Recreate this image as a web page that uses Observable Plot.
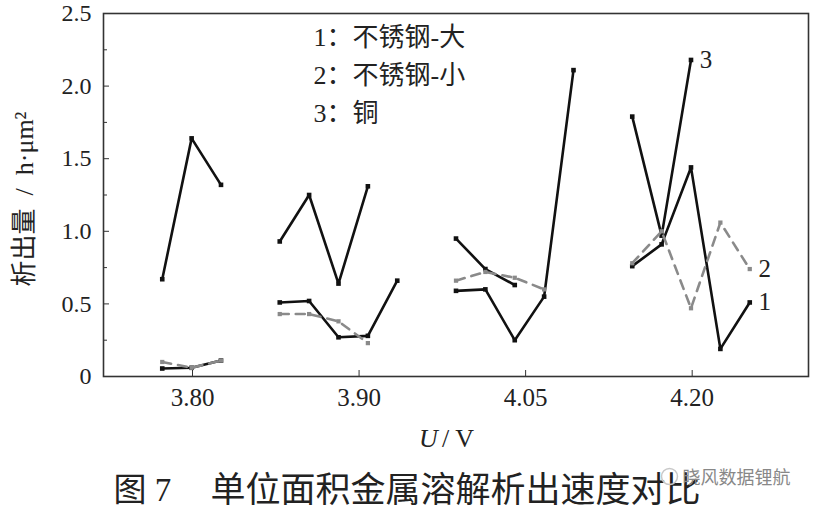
<!DOCTYPE html>
<html><head><meta charset="utf-8">
<script src="https://cdn.jsdelivr.net/npm/d3@7"></script>
<script src="https://cdn.jsdelivr.net/npm/@observablehq/plot@0.6"></script>
<style>
body{margin:0;background:#fff;}
#chart{width:817px;height:515px;}
</style>
</head><body><div id="chart"></div>
<script>
// ---- data ----
const groups = ["3.80", "3.90", "4.05", "4.20"];         // voltage groups (tick labels)
const groupStart = [2, 6, 12, 18];                        // index of first sample of each group
const tickPos = [3.03, 8.7, 14.37, 20.04];                // tick positions on the index axis
const yTicks = [0, 0.5, 1, 1.5, 2, 2.5];
const yMinor = [0.25, 0.75, 1.25, 1.75, 2.25];
const seriesNames = ["1：不锈钢-大", "2：不锈钢-小", "3：铜"];
const endLabels = ["1", "2", "3"];
const s1 = [[0.055, 0.06, 0.11], [0.51, 0.52, 0.27, 0.28, 0.66], [0.59, 0.60, 0.25, 0.55, 2.11], [0.76, 0.91, 1.44, 0.19, 0.51]];
const s2 = [[0.10, 0.06, 0.11], [0.43, 0.43, 0.38, 0.23], [0.66, 0.72, 0.68, 0.60], [0.78, 1.00, 0.47, 1.06, 0.74]];
const s3 = [[0.67, 1.64, 1.32], [0.93, 1.25, 0.64, 1.31], [0.95, 0.74, 0.63], [1.79, 0.97, 2.18]];
const yTitle = "析出量\u2002/\u2002h·μm²";
const caption1 = "图 7";
const caption2 = "单位面积金属溶解析出速度对比";
const watermark = "晓风数据锂航";

function rows(series, k) {
  const out = [];
  series.forEach((vals, g) => vals.forEach((v, i) => out.push({series: k, group: g, x: groupStart[g] + i, y: v})));
  return out;
}
const d1 = rows(s1, 1), d2 = rows(s2, 2), d3r = rows(s3, 3);
const ends = [d1[d1.length - 1], d2[d2.length - 1], d3r[d3r.length - 1]];

const serif = "'Liberation Serif', 'Noto Sans CJK SC', serif";
const cjk = "'Liberation Serif', 'Noto Sans CJK SC', sans-serif";
const black = "#111";
const gray = "#8a8a8a";

const plot = Plot.plot({
  width: 817, height: 515,
  marginLeft: 103, marginRight: 9, marginTop: 13, marginBottom: 139,
  x: {domain: [0, 24], axis: null},
  y: {domain: [0, 2.5], axis: null},
  style: {fontFamily: serif, background: "#fff", color: "#222"},
  marks: [
    // inward ticks
    Plot.axisY(yTicks, {anchor: "left", label: null, tickSize: -6, tickFormat: () => "", stroke: "#333"}),
    Plot.axisY(yMinor, {anchor: "left", label: null, tickSize: -4, tickFormat: () => "", stroke: "#333"}),
    Plot.axisX(tickPos, {anchor: "bottom", label: null, tickSize: -6, tickFormat: () => "", stroke: "#333"}),
    // tick labels
    Plot.axisY(yTicks, {anchor: "left", label: null, tickSize: 0, tickPadding: 12, fontSize: 24, fill: "#222",
      tickFormat: d => d === 0 ? "0" : d.toFixed(1)}),
    Plot.axisX(tickPos, {anchor: "bottom", label: null, tickSize: 0, tickPadding: 12, fontSize: 25, fill: "#222",
      tickFormat: d => groups[tickPos.indexOf(d)]}),
    Plot.frame({stroke: "#333", strokeWidth: 1.6}),
    // series 1 and 3: black solid
    Plot.line(d3r, {x: "x", y: "y", z: "group", stroke: black, strokeWidth: 2.6}),
    Plot.line(d1, {x: "x", y: "y", z: "group", stroke: black, strokeWidth: 2.6}),
    Plot.dot(d3r, {x: "x", y: "y", symbol: "square", r: 2.6, fill: black}),
    Plot.dot(d1, {x: "x", y: "y", symbol: "square", r: 2.6, fill: black}),
    // series 2: gray dashed
    Plot.line(d2, {x: "x", y: "y", z: "group", stroke: gray, strokeWidth: 2.6, strokeDasharray: "9,7"}),
    Plot.dot(d2, {x: "x", y: "y", symbol: "square", r: 2.4, fill: gray}),
    // end labels
    Plot.text(ends, {x: "x", y: "y", text: (d, i) => endLabels[i], dx: 15, fontSize: 25, fill: "#222", textAnchor: "middle"}),
    // legend
    ...seriesNames.map((t, i) => Plot.text([t], {frameAnchor: "top-left", dx: 210, dy: 24 + i * 38,
      textAnchor: "start", lineAnchor: "middle", fontSize: 26, fill: "#222", fontFamily: cjk})),
    // axis titles
    Plot.text([yTitle], {frameAnchor: "left", dx: -79, dy: 4, rotate: -90, textAnchor: "middle", lineAnchor: "middle",
      fontSize: 26, fill: "#222", fontFamily: cjk}),
    Plot.text(["U"], {frameAnchor: "bottom", dx: -37, dy: 62, textAnchor: "start", lineAnchor: "middle",
      fontSize: 26, fontStyle: "italic", fill: "#222"}),
    Plot.text(["/ V"], {frameAnchor: "bottom", dx: -14, dy: 62, textAnchor: "start", lineAnchor: "middle",
      fontSize: 26, fill: "#222"}),
    // caption
    Plot.text([caption1], {frameAnchor: "bottom-left", dx: 10, dy: 114, textAnchor: "start", lineAnchor: "middle",
      fontSize: 33, fill: "#222", fontFamily: cjk}),
    Plot.text([caption2], {frameAnchor: "bottom-left", dx: 107, dy: 114, textAnchor: "start", lineAnchor: "middle",
      fontSize: 35, fill: "#222", fontFamily: "'Noto Sans CJK SC', sans-serif"}),
    // watermark
    Plot.dot([0], {frameAnchor: "bottom-right", dx: -139, dy: 100, r: 8, stroke: "#c8c8c8", strokeWidth: 1.5, fill: "none"}),
    Plot.text([watermark], {frameAnchor: "bottom-right", dx: -18, dy: 102, textAnchor: "end", lineAnchor: "middle",
      fontSize: 18, fill: "#888", fontFamily: "'Noto Sans CJK SC', sans-serif"})
  ]
});
document.getElementById("chart").append(plot);
</script>
</body></html>
